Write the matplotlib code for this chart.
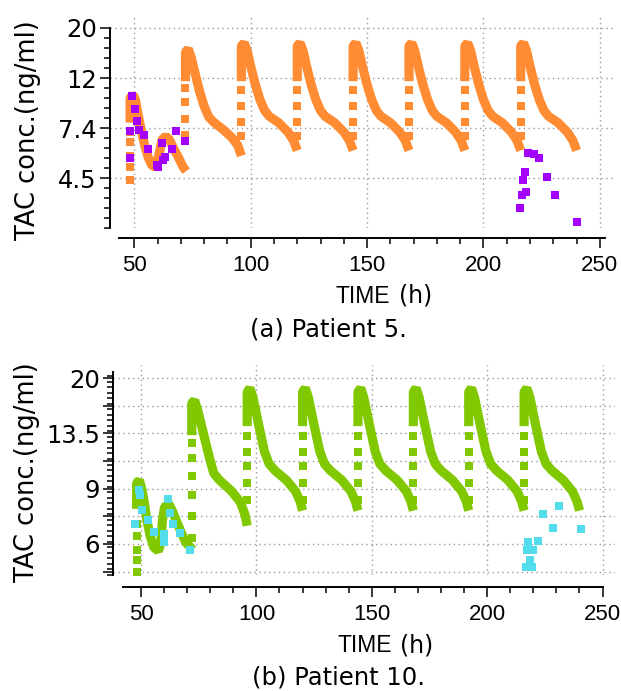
import numpy as np
import matplotlib.pyplot as plt

# ---- Patient 5 (a) : model prediction (ng/ml) ----
# first day: dose at 48 h and a smaller one around 60 h
a_day1_t = [48.2, 48.2, 49.5, 50.5, 51.5, 53.0, 54.5, 56.0, 57.5, 59.0, 60.5, 62.0, 63.5, 65.0, 67.0, 69.0, 71.0, 72.3]
a_day1_c = [7.8, 10.0, 10.3, 9.8, 8.6, 7.2, 6.2, 5.5, 5.1, 5.0, 5.6, 6.6, 6.8, 6.6, 6.0, 5.5, 5.0, 4.8]
a_day1_rise = [4.4, 5.0, 5.6, 6.4, 7.1]
# then one dose every 24 h
doses = [72, 96, 120, 144, 168, 192, 216]
a_cycle_h = [0, 0, 1.2, 2.5, 4, 6, 8, 10, 12, 16, 20, 22.5, 24]
a_cycle1_c = [11.8, 15.8, 16.3, 14.9, 12.9, 10.7, 9.2, 8.25, 7.85, 7.3, 6.7, 6.2, 5.6]
a_cycle_c = [11.8, 16.8, 17.3, 16.0, 13.7, 11.4, 9.8, 8.8, 8.3, 7.8, 7.1, 6.5, 5.9]
a_rise1 = [6.9, 8.1, 9.6, 11.0]
a_rise = [6.8, 7.85, 9.2, 10.8]

# ---- Patient 5 (a) : observed ----
a_obs_t = [49.1, 50.3, 51.0, 48.2, 52.0, 54.3, 56.0, 48.2, 61.7, 66.0, 60.3, 62.4, 63.2, 59.6, 67.9, 72.0,
           219.0, 221.5, 224.0, 217.8, 217.2, 227.5, 218.3, 216.4, 230.7, 215.8, 240.3]
a_obs_c = [10.2, 8.9, 7.95, 7.2, 7.24, 6.9, 5.97, 5.46, 6.34, 5.97, 4.99, 5.37, 5.55, 5.1, 7.2, 6.51,
           5.74, 5.70, 5.46, 4.77, 4.39, 4.51, 3.91, 3.78, 3.78, 3.31, 2.90]

# ---- Patient 10 (b) : model prediction ----
b_day1_t = [48.1, 48.1, 49.3, 50.5, 51.5, 52.5, 54.0, 55.5, 57.5, 58.5, 59.3, 60.2, 62.0, 63.5, 65.5, 67.5, 69.5, 71.5, 72.3]
b_day1_c = [7.8, 9.4, 9.6, 8.9, 8.1, 7.2, 6.4, 5.9, 5.75, 6.05, 7.2, 7.9, 8.1, 7.7, 7.1, 6.55, 6.1, 5.9, 5.8]
b_day1_rise = [4.95, 5.4, 5.8, 6.4, 7.0]
b_cycle_h = [0, 0, 1.2, 2.5, 5, 7.5, 9.5, 12, 17, 21, 23, 24]
b_cycle1_c = [13.3, 16.8, 17.1, 16.0, 13.5, 11.4, 10.1, 9.6, 8.9, 8.2, 7.5, 6.9]
b_cycle_c = [14.2, 18.2, 18.7, 17.5, 14.3, 11.8, 10.8, 10.3, 9.6, 8.85, 8.2, 7.7]
b_rise1 = [6.3, 7.4, 8.6, 9.9, 11.25, 12.55]
b_rise = [8.3, 9.4, 10.6, 11.8, 13.2]

# ---- Patient 10 (b) : observed ----
b_obs_t = [49.1, 49.4, 50.6, 47.4, 53.2, 55.8, 61.6, 62.6, 60.1, 60.1, 64.0, 66.9, 71.2,
           231.1, 224.3, 228.6, 240.6, 222.1, 217.8, 217.1, 220.0, 218.4, 216.7, 219.3]
b_obs_c = [8.94, 8.6, 7.74, 7.0, 7.2, 6.6, 8.4, 7.55, 6.5, 6.15, 7.0, 6.56, 5.79,
           7.98, 7.49, 6.8, 6.72, 6.19, 6.15, 5.79, 5.79, 5.38, 5.10, 5.10]

# y tick labels
a_ticks_ln = [1.5, 2.0, 2.5, 3.0]
a_tick_lbl = ['4.5', '7.4', '12', '20']
b_ticks_ln = [1.6, 1.8, 2.0, 2.2, 2.4, 2.6, 2.8, 3.0]
b_tick_lbl = ['', '6', '', '9', '', '13.5', '', '20']

orange = '#FF8C33'
purple = '#A300FF'
green = '#80C800'
cyan = '#52DCEC'

fig = plt.figure(figsize=(6.21, 6.91), dpi=100)
ax_a = fig.add_axes([0.1771, 0.6700, 0.8132, 0.3083])
ax_b = fig.add_axes([0.1820, 0.1679, 0.8084, 0.3039])

band = dict(lw=6.6, solid_capstyle='butt', solid_joinstyle='bevel', zorder=2)
sq = dict(ls='none', marker='s', ms=5.4, mew=0, zorder=2)


def draw_model(ax, col, d1_t, d1_c, d1_rise, hours, c1, c, rise1, rise):
    ax.plot(d1_t, d1_c, color=col, **band)
    ax.plot([d1_t[0]] * len(d1_rise), d1_rise, color=col, **sq)
    for i, d in enumerate(doses):
        cc = c1 if i == 0 else c
        rr = rise1 if i == 0 else rise
        ax.plot([d + h for h in hours], cc, color=col, **band)
        ax.plot([d] * len(rr), rr, color=col, **sq)


draw_model(ax_a, orange, a_day1_t, a_day1_c, a_day1_rise, a_cycle_h, a_cycle1_c, a_cycle_c, a_rise1, a_rise)
ax_a.plot(a_obs_t, a_obs_c, ls='none', marker='s', ms=6.4, mew=0, color=purple, zorder=3)

draw_model(ax_b, green, b_day1_t, b_day1_c, b_day1_rise, b_cycle_h, b_cycle1_c, b_cycle_c, b_rise1, b_rise)
ax_b.plot(b_obs_t, b_obs_c, ls='none', marker='s', ms=6.4, mew=0, color=cyan, zorder=3)

# --- axes styling ---
panels = [
    (ax_a, (39.56, 256.5), (1.0, 3.13), (43.4, 252.2), (1.0, 3.0), a_ticks_ln, a_tick_lbl, 0.1, 7.2),
    (ax_b, (37.87, 255.4), (1.575, 3.096), (42.1, 250.2), (1.575, 3.045), b_ticks_ln, b_tick_lbl, 0.04, 8.6),
]
for ax, xl, yl, xb, yb, tln, tlbl, mstep, off in panels:
    ax.set_yscale('log')
    ax.set_xlim(*xl)
    ax.set_ylim(np.exp(yl[0]), np.exp(yl[1]))
    for s in ['top', 'right']:
        ax.spines[s].set_visible(False)
    ax.spines['left'].set_bounds(np.exp(yb[0]), np.exp(yb[1]))
    ax.spines['bottom'].set_position(('outward', off))
    ax.spines['bottom'].set_bounds(*xb)
    for s in ['left', 'bottom']:
        ax.spines[s].set_linewidth(1.4)
    ax.set_yticks(np.exp(tln), tlbl)
    ax.set_yticks(np.exp(np.arange(yb[0], yb[1] + 1e-6, mstep)), minor=True)
    ax.yaxis.set_minor_formatter(plt.NullFormatter())
    ax.set_xticks([50, 100, 150, 200, 250])
    ax.set_xticks(np.arange(60, 250, 10), minor=True)
    ax.tick_params(axis='y', which='major', length=7, width=1.1, pad=2.5, labelsize=17.5)
    ax.tick_params(axis='y', which='minor', length=4, width=1.1)
    ax.tick_params(axis='x', which='major', length=7, width=1.1, pad=5)
    ax.tick_params(axis='x', which='minor', length=4, width=1.1)
    for lb in ax.get_xticklabels():
        lb.set_fontfamily('Liberation Sans')
        lb.set_fontsize(16)
    ax.grid(True, which='major', color='#9a9a9a', lw=1.0, ls=(0, (1, 2.5)))
    ax.set_axisbelow(True)
    ax.set_ylabel('TAC conc.(ng/ml)', fontsize=18.5)

ax_a.yaxis.set_label_coords(-0.137, 0.46)
ax_b.yaxis.set_label_coords(-0.146, 0.49)

# x labels and captions
fig.text(363 / 621, 1 - 303 / 691, 'TIME', ha='center', va='baseline', fontsize=16.5, family='Liberation Sans')
fig.text(416 / 621, 1 - 303 / 691, '(h)', ha='center', va='baseline', fontsize=17)
fig.text(365 / 621, 1 - 652 / 691, 'TIME', ha='center', va='baseline', fontsize=16.5, family='Liberation Sans')
fig.text(417 / 621, 1 - 652 / 691, '(h)', ha='center', va='baseline', fontsize=17)
fig.text(328 / 621, 1 - 336 / 691, '(a) Patient 5.', ha='center', va='baseline', fontsize=17.5)
fig.text(338 / 621, 1 - 685 / 691, '(b) Patient 10.', ha='center', va='baseline', fontsize=17.5)

fig.savefig('out.png', dpi=100)
